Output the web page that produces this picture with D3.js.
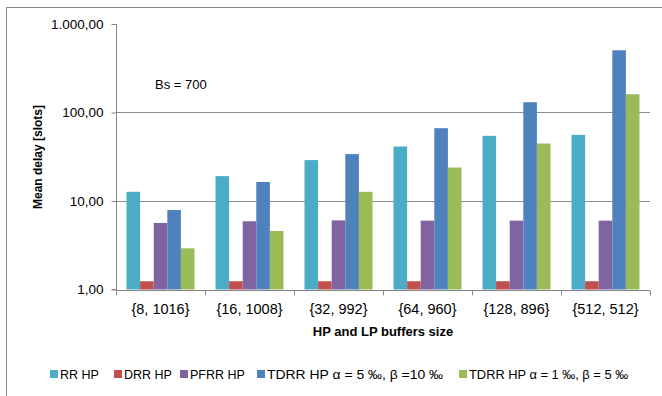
<!DOCTYPE html>
<html><head><meta charset="utf-8">
<script src="https://cdn.jsdelivr.net/npm/d3@7"></script>
<style>
body{margin:0;background:#fff;}
svg{display:block;}
text{font-family:"Liberation Sans",Arial,sans-serif;}
</style></head>
<body>
<svg id="c" width="662" height="396"></svg>
<script>
const categories = ["{8, 1016}", "{16, 1008}", "{32, 992}", "{64, 960}", "{128, 896}", "{512, 512}"];
const seriesNames = ["RR HP", "DRR HP", "PFRR HP", "TDRR HP \u03b1 = 5 \u2030, \u03b2 =10 \u2030", "TDRR HP \u03b1 = 1 \u2030, \u03b2 = 5 \u2030"];
const seriesColors = ["#4BACC6", "#C0504D", "#8064A2", "#4F81BD", "#9BBB59"];
const rrHP    = [12.7, 19.1, 29.0, 41.3, 54.5, 55.9];
const drrHP   = [1.24, 1.24, 1.24, 1.24, 1.24, 1.24];
const pfrrHP  = [5.65, 5.9, 6.04, 6.0, 6.0, 6.0];
const tdrr1   = [7.9, 16.4, 33.9, 66.5, 130.6, 505];
const tdrr2   = [2.92, 4.59, 12.7, 23.9, 44.6, 160.8];
const tickValues = [1, 10, 100, 1000];
const tickLabels = ["1,00", "10,00", "100,00", "1.000,00"];
const seriesValues = [rrHP, drrHP, pfrrHP, tdrr1, tdrr2];

(function(){
const svg = d3.select("#c");
svg.append("rect").attr("x",6.5).attr("y",7.5).attr("width",700).attr("height",420)
  .attr("fill","none").attr("stroke","#868686").attr("stroke-width",1);

const pL = 116, pR = 650, pT = 24, pB = 289.5;
const x = d3.scaleBand().domain(categories).range([pL,pR]).paddingInner(0.236).paddingOuter(0.118);
const xs = d3.scaleBand().domain(d3.range(seriesNames.length)).range([0,x.bandwidth()]);
const y = d3.scaleLog().domain([1,1000]).range([pB,pT]);

svg.append("g").selectAll("line").data(tickValues.slice(1,3)).join("line")
  .attr("x1",pL).attr("x2",pR).attr("y1",d=>Math.round(y(d))+0.5).attr("y2",d=>Math.round(y(d))+0.5)
  .attr("stroke","#8c8c8c").attr("stroke-width",1);

const g = svg.append("g");
seriesValues.forEach((vals,si)=>{
  g.selectAll(null).data(vals).join("rect")
    .attr("x",(d,i)=>x(categories[i])+xs(si))
    .attr("width",xs.bandwidth())
    .attr("y",d=>y(d))
    .attr("height",d=>pB-y(d))
    .attr("fill",seriesColors[si]);
});

const yAxis = d3.axisLeft(y).tickValues(tickValues).tickFormat((d,i)=>tickLabels[i]).tickSize(5).tickPadding(8);
const ya = svg.append("g").attr("transform",`translate(${pL+0.5},0)`).call(yAxis);
ya.select(".domain").attr("stroke","#868686").attr("d",`M-5,${pB}H0V${pT}`);
ya.selectAll(".tick line").attr("stroke","#868686");
ya.selectAll(".tick text").attr("font-size",13.5).attr("fill","#000").attr("font-family","'Liberation Sans',Arial,sans-serif");

const xa = svg.append("g").attr("transform",`translate(0,${Math.round(pB)+0.5})`);
xa.append("line").attr("x1",pL).attr("x2",pR).attr("stroke","#868686");
const bounds = categories.map(c=>x(c)-x.step()*x.paddingInner()/2).concat([pR]);
xa.selectAll("line.t").data(bounds).join("line").attr("class","t")
  .attr("x1",d=>Math.round(d)+0.5).attr("x2",d=>Math.round(d)+0.5).attr("y1",0).attr("y2",5).attr("stroke","#868686");
xa.selectAll("text").data(categories).join("text")
  .attr("x",d=>x(d)+x.bandwidth()/2).attr("y",23).attr("text-anchor","middle")
  .attr("font-size",14.5).attr("fill","#000").text(d=>d);

svg.append("text").attr("x",383).attr("y",336).attr("text-anchor","middle")
  .attr("font-size",13).attr("font-weight","bold").text("HP and LP buffers size");
svg.append("text").attr("transform","translate(42,157) rotate(-90)").attr("text-anchor","middle")
  .attr("font-size",12).attr("font-weight","bold")
  .text("Mean delay [slots]");

svg.append("text").attr("x",155).attr("y",89).attr("font-size",13).text("Bs = 700");

const legendX = [50, 114, 180, 257, 459];
const legendLen = [null, null, null, 176, 159];
const lg = svg.append("g");
seriesNames.forEach((n,i)=>{
  lg.append("rect").attr("x",legendX[i]).attr("y",370).attr("width",8).attr("height",8).attr("fill",seriesColors[i]);
  const t = lg.append("text").attr("x",legendX[i]+10).attr("y",378.5).attr("font-size",12.5)
    .attr("font-family","'DejaVu Sans Condensed','DejaVu Sans',sans-serif").attr("font-stretch","condensed").text(n);
  if (legendLen[i]) t.attr("textLength",legendLen[i]).attr("lengthAdjust","spacingAndGlyphs");
});
})();
</script>
</body></html>
